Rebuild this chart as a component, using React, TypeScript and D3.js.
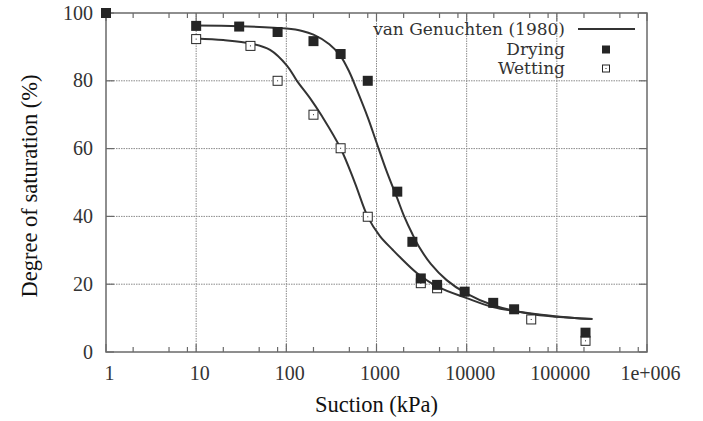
import React from "react";
import * as d3 from "d3";

// Measured data
const dryingSuction = [1, 10, 30, 80, 200, 400, 800, 1700, 2500, 3100, 4700, 9500, 19700, 33600, 208000];
const dryingSat = [100, 96.2, 96, 94.4, 91.7, 87.9, 80, 47.3, 32.5, 21.7, 19.8, 17.8, 14.5, 12.6, 5.7];
const wettingSuction = [10, 40, 80, 200, 400, 800, 3100, 4700, 52000, 208000];
const wettingSat = [92.3, 90.3, 80, 70, 60.1, 39.9, 20.3, 18.8, 9.6, 3.3];

// van Genuchten fitted curves
const vgDryX = [10, 30, 100, 150, 200, 300, 400, 500, 600, 800, 1000, 1300, 1700, 2000, 2500, 3000, 4000, 6000, 10000, 20000, 50000, 100000, 248000];
const vgDryY = [96.3, 96.1, 95.4, 94.7, 93.6, 90.8, 87.3, 82.6, 77.6, 69.2, 61.8, 53.2, 45.3, 40.4, 34.8, 30.8, 26.0, 21.2, 17.2, 13.7, 11.3, 10.4, 9.7];
const vgWetX = [10, 20, 40, 66, 102, 131, 183, 248, 403, 576, 803, 1091, 1520, 1816, 2803, 4800, 10000, 19500, 50000, 100000, 248000];
const vgWetY = [92.5, 92.0, 91.0, 89.1, 84.4, 80.0, 74.9, 69.6, 59.9, 49.9, 39.8, 34.2, 30.1, 28.0, 23.3, 19.2, 15.9, 13.3, 11.4, 10.5, 9.7];

const xTicks = [1, 10, 100, 1000, 10000, 100000, 1000000];
const xTickLabels = ["1", "10", "100", "1000", "10000", "100000", "1e+006"];
const yTicks = [0, 20, 40, 60, 80, 100];
const legendLabels = ["van Genuchten (1980)", "Drying", "Wetting"];
const xTitle = "Suction (kPa)";
const yTitle = "Degree of saturation (%)";

const W = 703;
const H = 421;
const L = 106, R = 647, T = 13, B = 352;
const FONT = "Liberation Serif, DejaVu Serif, Times New Roman, serif";
const LEG_FONT = "DejaVu Serif, Liberation Serif, serif";

export default function App() {
  const x = d3.scaleLog().domain([1, 1e6]).range([L, R]);
  const y = d3.scaleLinear().domain([0, 100]).range([B, T]);

  const minor: number[] = [];
  for (let d = 0; d < 6; d++) {
    for (const m of [2, 5, 8]) minor.push(m * Math.pow(10, d));
  }

  const line = d3
    .line<[number, number]>()
    .x((d) => x(d[0]))
    .y((d) => y(d[1]))
    .curve(d3.curveCatmullRom.alpha(0.5));

  const dryCurve = line(vgDryX.map((v, i) => [v, vgDryY[i]] as [number, number])) || "";
  const wetCurve = line(vgWetX.map((v, i) => [v, vgWetY[i]] as [number, number])) || "";

  const gridColor = "#8a8a8a";
  const axisColor = "#6a6a6a";
  const curveColor = "#333";
  const markColor = "#252525";
  const fs = 20;
  const legFs = 17;
  const titleFs = 22.5;

  const legX = 565;
  const legSymX = 606;

  return (
    <svg
      width={W}
      height={H}
      style={{ position: "absolute", left: 0, top: 0, background: "#fff", fontFamily: FONT }}
    >
      <rect x={0} y={0} width={W} height={H} fill="#fff" />
      {/* grid */}
      {xTicks.slice(1, -1).map((t) => (
        <line key={"gx" + t} x1={x(t)} x2={x(t)} y1={T} y2={B} stroke={gridColor} strokeWidth={1} strokeDasharray="1.5,1" />
      ))}
      {yTicks.slice(1, -1).map((t) => (
        <line key={"gy" + t} x1={L} x2={R} y1={y(t)} y2={y(t)} stroke={gridColor} strokeWidth={1} strokeDasharray="1.5,1" />
      ))}
      {/* minor ticks */}
      {minor.map((t) => (
        <g key={"m" + t}>
          <line x1={x(t)} x2={x(t)} y1={B} y2={B - 5} stroke={axisColor} strokeWidth={1.2} />
          <line x1={x(t)} x2={x(t)} y1={T} y2={T + 5} stroke={axisColor} strokeWidth={1.2} />
        </g>
      ))}
      {xTicks.map((t) => (
        <g key={"M" + t}>
          <line x1={x(t)} x2={x(t)} y1={B} y2={B - 8} stroke={axisColor} strokeWidth={1.2} />
          <line x1={x(t)} x2={x(t)} y1={T} y2={T + 8} stroke={axisColor} strokeWidth={1.2} />
        </g>
      ))}
      {yTicks.map((t) => (
        <g key={"Y" + t}>
          <line x1={L} x2={L + 8} y1={y(t)} y2={y(t)} stroke={axisColor} strokeWidth={1.2} />
          <line x1={R} x2={R - 8} y1={y(t)} y2={y(t)} stroke={axisColor} strokeWidth={1.2} />
        </g>
      ))}
      {/* border */}
      <rect x={L} y={T} width={R - L} height={B - T} fill="none" stroke={axisColor} strokeWidth={1.5} />

      {/* tick labels */}
      {xTicks.map((t, i) => (
        <text key={"xl" + t} x={x(t) + 3.5} y={379.5} textAnchor="middle" fontSize={fs} fill="#333">
          {xTickLabels[i]}
        </text>
      ))}
      {yTicks.map((t) => (
        <text key={"yl" + t} x={93} y={y(t) + 6.5} textAnchor="end" fontSize={fs} fill="#333">
          {t}
        </text>
      ))}

      {/* axis titles */}
      <text x={376.5} y={411.5} textAnchor="middle" fontSize={titleFs} fill="#111">
        {xTitle}
      </text>
      <text
        transform={`translate(37, 186) rotate(-90)`}
        textAnchor="middle"
        fontSize={titleFs}
        fill="#111"
      >
        {yTitle}
      </text>

      {/* curves */}
      <path d={dryCurve} fill="none" stroke={curveColor} strokeWidth={2} />
      <path d={wetCurve} fill="none" stroke={curveColor} strokeWidth={2} />

      {/* wetting points */}
      {wettingSuction.map((s, i) => (
        <g key={"w" + i}>
          <rect x={x(s) - 4.5} y={y(wettingSat[i]) - 4.5} width={9} height={9} fill="#fff" stroke={markColor} strokeWidth={1} />
          <rect x={x(s) - 0.5} y={y(wettingSat[i]) - 0.5} width={1} height={1} fill={markColor} />
        </g>
      ))}
      {/* drying points */}
      {dryingSuction.map((s, i) => (
        <rect key={"d" + i} x={x(s) - 5} y={y(dryingSat[i]) - 5} width={10} height={10} fill={markColor} />
      ))}

      {/* legend */}
      <g fontFamily={LEG_FONT} fontSize={legFs} fill="#333">
        <text x={legX} y={34.5} textAnchor="end">
          {legendLabels[0]}
        </text>
        <text x={legX} y={54.5} textAnchor="end">
          {legendLabels[1]}
        </text>
        <text x={legX} y={74} textAnchor="end">
          {legendLabels[2]}
        </text>
      </g>
      <line x1={578} x2={635} y1={29} y2={29} stroke={curveColor} strokeWidth={2} />
      <rect x={legSymX - 4} y={49.5 - 4} width={8} height={8} fill={markColor} />
      <rect x={legSymX - 3.5} y={68.5 - 3.5} width={7} height={7} fill="#fff" stroke={markColor} strokeWidth={1} />
      <rect x={legSymX - 0.5} y={68} width={1} height={1} fill={markColor} />
    </svg>
  );
}
